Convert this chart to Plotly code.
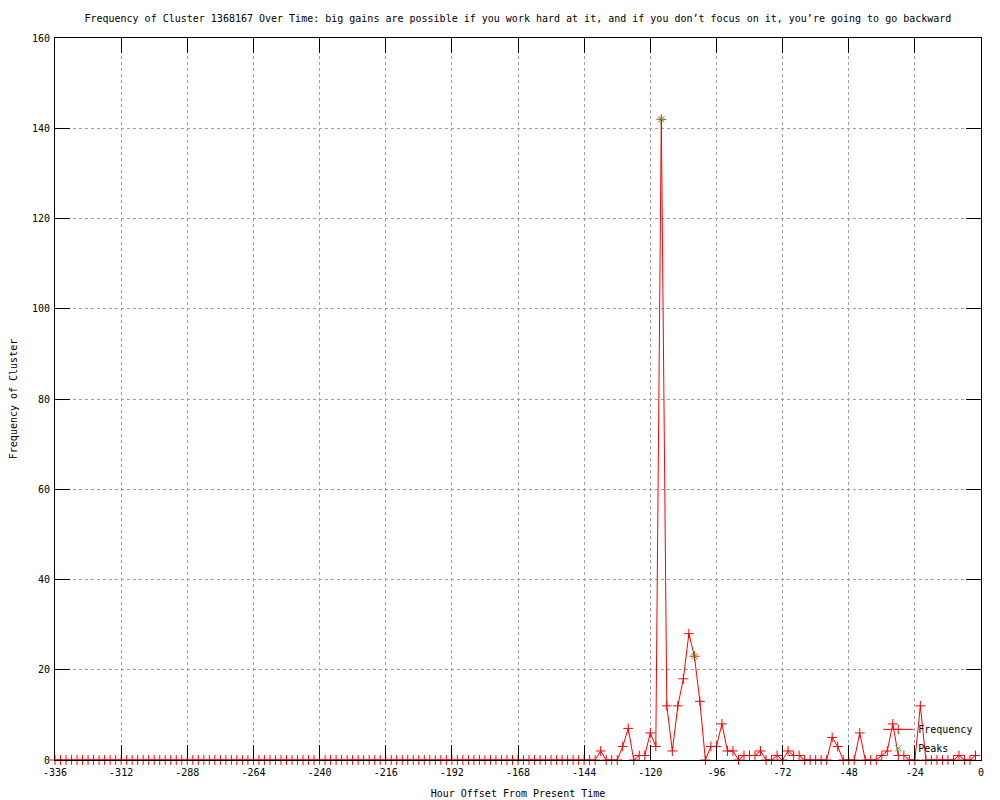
import plotly.graph_objects as go

# Hour offsets (every 2 hours) and cluster frequency
hours = [
    -336, -334, -332, -330, -328, -326, -324, -322, -320, -318, -316, -314,
    -312, -310, -308, -306, -304, -302, -300, -298, -296, -294, -292, -290,
    -288, -286, -284, -282, -280, -278, -276, -274, -272, -270, -268, -266,
    -264, -262, -260, -258, -256, -254, -252, -250, -248, -246, -244, -242,
    -240, -238, -236, -234, -232, -230, -228, -226, -224, -222, -220, -218,
    -216, -214, -212, -210, -208, -206, -204, -202, -200, -198, -196, -194,
    -192, -190, -188, -186, -184, -182, -180, -178, -176, -174, -172, -170,
    -168, -166, -164, -162, -160, -158, -156, -154, -152, -150, -148, -146,
    -144, -142, -140, -138, -136, -134, -132, -130, -128, -126, -124, -122,
    -120, -118, -116, -114, -112, -110, -108, -106, -104, -102, -100, -98,
    -96, -94, -92, -90, -88, -86, -84, -82, -80, -78, -76, -74,
    -72, -70, -68, -66, -64, -62, -60, -58, -56, -54, -52, -50,
    -48, -46, -44, -42, -40, -38, -36, -34, -32, -30, -28, -26,
    -24, -22, -20, -18, -16, -14, -12, -10, -8, -6, -4, -2,
]
frequency = [
    0, 0, 0, 0, 0, 0, 0, 0, 0, 0, 0, 0,
    0, 0, 0, 0, 0, 0, 0, 0, 0, 0, 0, 0,
    0, 0, 0, 0, 0, 0, 0, 0, 0, 0, 0, 0,
    0, 0, 0, 0, 0, 0, 0, 0, 0, 0, 0, 0,
    0, 0, 0, 0, 0, 0, 0, 0, 0, 0, 0, 0,
    0, 0, 0, 0, 0, 0, 0, 0, 0, 0, 0, 0,
    0, 0, 0, 0, 0, 0, 0, 0, 0, 0, 0, 0,
    0, 0, 0, 0, 0, 0, 0, 0, 0, 0, 0, 0,
    0, 0, 0, 2, 0, 0, 0, 3, 7, 0, 1, 1,
    6, 3, 142, 12, 2, 12, 18, 28, 23, 13, 0, 3,
    3, 8, 2, 2, 0, 1, 1, 1, 2, 0, 0, 1,
    0, 2, 1, 1, 0, 0, 0, 0, 0, 5, 3, 0,
    0, 0, 6, 0, 0, 0, 1, 2, 8, 1, 1, 0,
    0, 12, 0, 0, 0, 0, 0, 0, 1, 0, 0, 1,
]

peak_hours = [-116, -104]
peak_values = [142, 23]

x_ticks = [-336, -312, -288, -264, -240, -216, -192, -168, -144, -120, -96, -72, -48, -24, 0]
y_ticks = [0, 20, 40, 60, 80, 100, 120, 140, 160]

FONT = "DejaVu Sans Mono"

fig = go.Figure()
fig.add_trace(go.Scatter(
    x=hours, y=frequency, mode="lines+markers", name="Frequency",
    line=dict(color="#ff0000", width=1),
    marker=dict(symbol="cross-thin", size=7, line=dict(color="#ff0000", width=1)),
    cliponaxis=False,
))
fig.add_trace(go.Scatter(
    x=peak_hours, y=peak_values, mode="markers", name="Peaks",
    marker=dict(symbol="x-thin", size=6, color="#00c000", line=dict(color="#00c000", width=1)),
    cliponaxis=False,
))

axis_common = dict(
    showline=True, linecolor="black", linewidth=1, mirror="ticks",
    ticks="inside", ticklen=15, tickcolor="black", tickwidth=1,
    showgrid=True, gridcolor="#a0a0a0", griddash="dot", gridwidth=1,
    zeroline=False, automargin=False,
    tickfont=dict(family=FONT, size=10, color="black"),
)

fig.update_layout(
    width=992, height=792,
    margin=dict(l=47, r=19, t=30, b=40),
    paper_bgcolor="white", plot_bgcolor="white",
    font=dict(family=FONT, size=10, color="black"),
    title=dict(
        text="Frequency of Cluster 1368167 Over Time: big gains are possible if you work hard at it, and if you don’t focus on it, you’re going to go backward",
        x=0.514, xanchor="center", y=1 - 10 / 792, yanchor="middle",
        font=dict(family=FONT, size=10, color="black"),
    ),
    xaxis=dict(
        range=[-336, 0], tickvals=x_ticks, ticktext=[str(v) for v in x_ticks],
        ticklabelstandoff=3,
        title=dict(text="Hour Offset From Present Time", standoff=12,
                   font=dict(family=FONT, size=10)),
        **axis_common,
    ),
    yaxis=dict(
        range=[0, 160], tickvals=y_ticks, ticklabelstandoff=2,
        title=dict(text="Frequency of Cluster", standoff=15,
                   font=dict(family=FONT, size=10)),
        **axis_common,
    ),
    showlegend=True,
    legend=dict(
        x=0.997, xanchor="right", y=-0.004, yanchor="bottom",
        bgcolor="rgba(0,0,0,0)", font=dict(family=FONT, size=10),
        tracegroupgap=0, itemwidth=30,
    ),
)

fig.write_html("out.html")
